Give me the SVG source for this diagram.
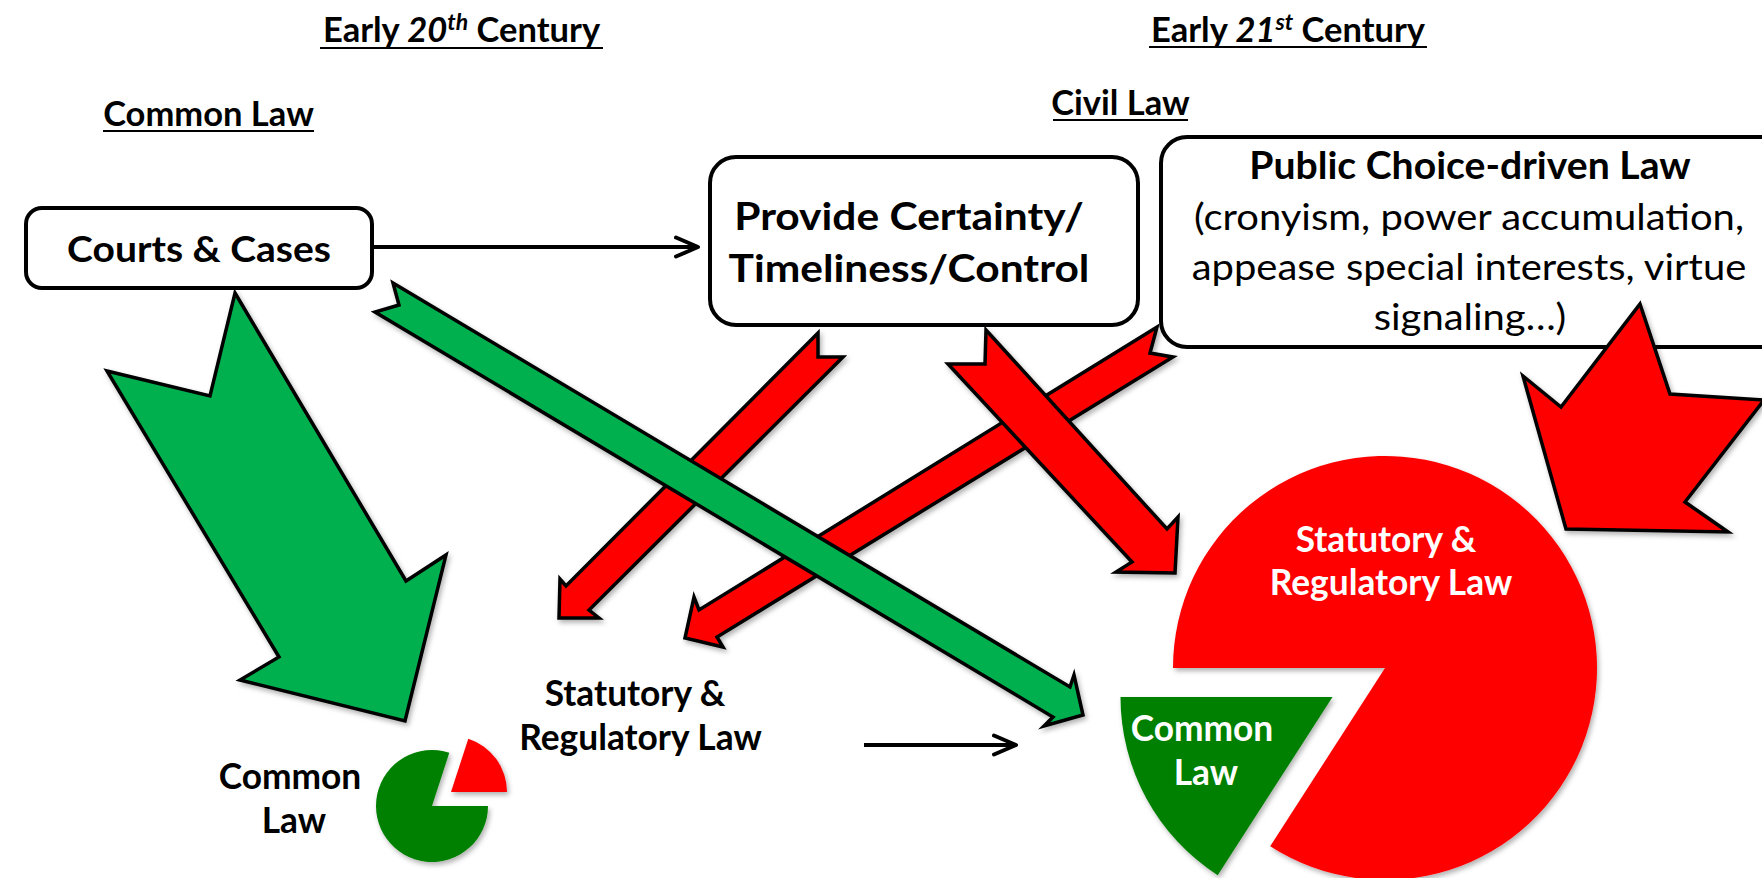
<svg xmlns="http://www.w3.org/2000/svg" width="1762" height="878" viewBox="0 0 1762 878">
  <defs>
    <style>
      text { font-family: Lato, "Liberation Sans", sans-serif; fill: #000; }
      .hd { font-size: 34.5px; font-weight: bold; text-anchor: middle; }
      .sup { font-size: 23px; font-style: italic; }
      .it { font-style: italic; }
      .ul { stroke: #000; stroke-width: 2.2; }
      .box { fill: #fff; stroke: #000; stroke-width: 4; }
      .bt { font-weight: bold; text-anchor: middle; }
      .pt { font-size: 37px; text-anchor: middle; }
      .lbl { font-size: 35.3px; font-weight: bold; text-anchor: middle; }
      .wt { fill: #fff; }
      .gA { fill: #00B050; stroke: #000; stroke-width: 3.5; stroke-linejoin: miter; }
      .rA { fill: #FF0000; stroke: #000; stroke-width: 3.5; stroke-linejoin: miter; }
      .ln { stroke: #000; stroke-width: 4; fill: none; }
    </style>
    <filter id="sh" x="-20%" y="-20%" width="140%" height="140%">
      <feDropShadow dx="2" dy="3" stdDeviation="2.5" flood-color="#000" flood-opacity="0.3"/>
    </filter>
    <marker id="chev" markerUnits="userSpaceOnUse" viewBox="0 0 30 24" markerWidth="30" markerHeight="24" refX="24" refY="12" orient="auto">
      <path d="M2,2.5 L24,12 L2,21.5" fill="none" stroke="#000" stroke-width="4" stroke-linecap="round" stroke-linejoin="round"/>
    </marker>
  </defs>

  <!-- period headings -->
  <g id="heading-20th">
    <text class="hd" x="461.5" y="42">Early <tspan class="it">20</tspan><tspan class="sup" dy="-12">th</tspan><tspan dy="12"> Century</tspan></text>
    <line class="ul" x1="320" y1="48" x2="603" y2="48"/>
  </g>
  <g id="heading-21st">
    <text class="hd" x="1288" y="42">Early <tspan class="it">21</tspan><tspan class="sup" dy="-12">st</tspan><tspan dy="12"> Century</tspan></text>
    <line class="ul" x1="1149" y1="47" x2="1427" y2="47"/>
  </g>
  <g id="heading-common-law">
    <text class="hd" x="208.5" y="126">Common Law</text>
    <line class="ul" x1="103" y1="131" x2="314" y2="131"/>
  </g>
  <g id="heading-civil-law">
    <text class="hd" x="1120.5" y="115">Civil Law</text>
    <line class="ul" x1="1053" y1="120" x2="1188" y2="120"/>
  </g>

  <!-- boxes (box texts are slightly widened to the wide face used here) -->
  <g id="courts">
    <rect class="box" x="26" y="208" width="346" height="80" rx="16"/>
    <text class="bt" transform="translate(199 262) scale(1.054 1)" font-size="37">Courts &amp; Cases</text>
  </g>
  <g id="provide">
    <rect class="box" x="710" y="157" width="428" height="168" rx="26"/>
    <text class="bt" transform="translate(909 230) scale(1.09 1)" font-size="39">Provide Certainty/</text>
    <text class="bt" transform="translate(909 282) scale(1.09 1)" font-size="39">Timeliness/Control</text>
  </g>
  <g id="public-choice">
    <rect class="box" x="1161" y="137" width="640" height="210" rx="26"/>
    <text class="bt" transform="translate(1470 179) scale(1.03 1)" font-size="38">Public Choice-driven Law</text>
    <text class="pt" transform="translate(1469 230) scale(1.08 1)">(cronyism, power accumulation,</text>
    <text class="pt" transform="translate(1469 280) scale(1.08 1)">appease special interests, virtue</text>
    <text class="pt" transform="translate(1470 330) scale(1.08 1)">signaling…)</text>
  </g>

  <!-- connectors -->
  <g id="connectors">
    <line class="ln" x1="373" y1="247" x2="698" y2="247" marker-end="url(#chev)"/>
    <line class="ln" x1="864" y1="745" x2="1016" y2="745" marker-end="url(#chev)"/>
    <g filter="url(#sh)">
      <!-- public choice to early-20th statutory -->
      <polygon class="rA" points="1157,327 1150,353 1173,357 717,637 723,647 685,638 694,597 699,610"/>
      <!-- provide to early-20th statutory -->
      <polygon class="rA" points="818,333 818,357 843,357 589,610 599,618 559,618 560,579 566,586"/>
      <!-- provide to early-21st statutory -->
      <polygon class="rA" points="986,330 1167,529 1178,517 1175,573 1116,572 1132,562 948,364 985,364"/>
      <!-- courts to early-21st common law -->
      <polygon class="gA" points="393,283 1070,687 1074,675 1083,715 1044,726 1053,717 375,312 399,305"/>
      <!-- courts to early-20th common law -->
      <polygon class="gA" points="235,293 406,581 446,555 405,721 240,680 279,657 107,371 210,396"/>
      <!-- public choice to early-21st statutory -->
      <polygon class="rA" points="1640,304 1670,394 1764,400 1685,502 1728,532 1566,529 1523,376 1561,407"/>
    </g>
  </g>

  <!-- early 20th century split -->
  <g id="pie-20th" filter="url(#sh)">
    <path d="M432,806 L488,806 A56,56 0 1 1 449.3,752.7 Z" fill="#008000"/>
    <path d="M451,792 L468.3,738.7 A56,56 0 0 1 507,792 Z" fill="#FF0000"/>
  </g>
  <g id="label-common-20th">
    <text class="lbl" x="290" y="789">Common</text>
    <text class="lbl" x="294" y="833">Law</text>
  </g>
  <g id="label-statutory-20th">
    <text class="lbl" x="635" y="705.5">Statutory &amp;</text>
    <text class="lbl" x="640.5" y="749.5">Regulatory Law</text>
  </g>

  <!-- early 21st century split -->
  <g id="pie-21st" filter="url(#sh)">
    <path d="M1385,668 L1173,668 A212,212 0 1 1 1270.2,846.2 Z" fill="#FF0000"/>
    <path d="M1332.5,697 L1217.7,875.2 A212,212 0 0 1 1120.5,697 Z" fill="#008000"/>
  </g>
  <g id="label-statutory-21st">
    <text class="lbl wt" x="1386" y="552">Statutory &amp;</text>
    <text class="lbl wt" x="1391" y="595">Regulatory Law</text>
  </g>
  <g id="label-common-21st">
    <text class="lbl wt" x="1202" y="740.5">Common</text>
    <text class="lbl wt" x="1206" y="784.5">Law</text>
  </g>
</svg>
